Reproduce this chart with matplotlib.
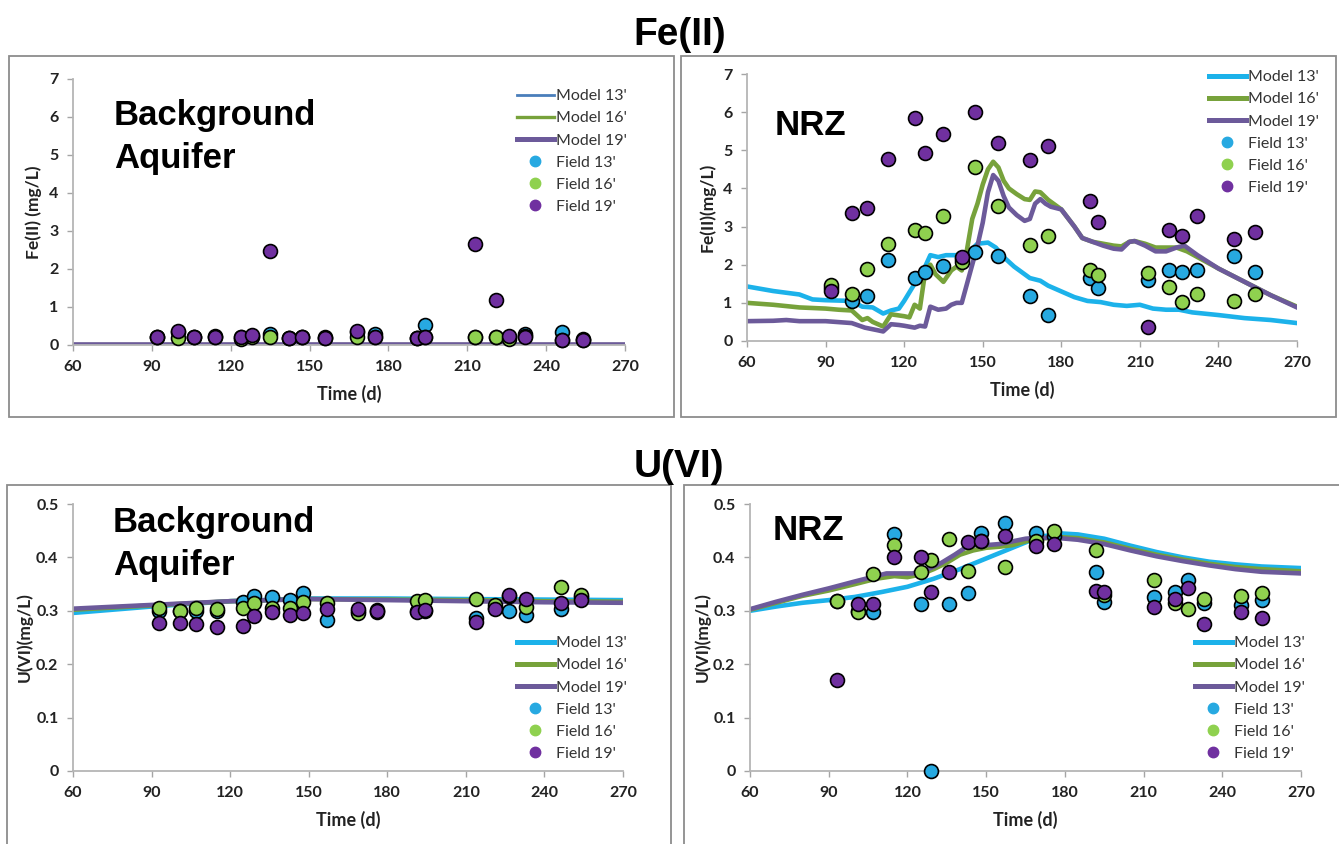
import matplotlib

matplotlib.use("Agg")
import matplotlib.pyplot as plt
from matplotlib.lines import Line2D
from matplotlib.patches import Rectangle

W, H = 1339, 844

# ---- Fe(II), background aquifer ----
fe_bg_days = [92, 100, 106, 114, 124, 128, 135, 142, 147, 156, 168, 175, 191, 194, 213, 221, 226, 232, 246, 254]
fe_bg_f13 = [0.2, 0.35, 0.22, 0.25, 0.22, 0.25, 0.3, 0.18, 0.2, 0.22, 0.35, 0.3, 0.18, 0.53, 0.2, 0.2, 0.2, 0.28, 0.35, 0.15]
fe_bg_f16 = [0.2, 0.18, 0.2, 0.2, 0.15, 0.2, 0.2, 0.18, 0.2, 0.18, 0.22, 0.22, 0.18, 0.2, 0.2, 0.22, 0.15, 0.25, 0.12, 0.12]
fe_bg_f19 = [0.2, 0.38, 0.2, 0.2, 0.22, 0.27, 2.48, 0.18, 0.2, 0.18, 0.38, 0.2, 0.18, 0.2, 2.65, 1.18, 0.25, 0.2, 0.12, 0.12]
fe_bg_model_days = [60, 120, 180, 240, 270]
fe_bg_m13 = [0.03, 0.03, 0.03, 0.03, 0.03]
fe_bg_m16 = [0.03, 0.03, 0.03, 0.03, 0.03]
fe_bg_m19 = [0.03, 0.03, 0.03, 0.03, 0.03]

# ---- Fe(II), NRZ ----
fe_nrz_days = [92, 100, 106, 114, 124, 128, 135, 142, 147, 156, 168, 175, 191, 194, 213, 221, 226, 232, 246, 254]
fe_nrz_f13 = [1.38, 1.05, 1.18, 2.12, 1.66, 1.8, 1.97, 2.15, 2.33, 2.23, 1.17, 0.68, 1.65, 1.4, 1.6, 1.87, 1.8, 1.87, 2.22, 1.82]
fe_nrz_f16 = [1.48, 1.22, 1.9, 2.55, 2.9, 2.82, 3.27, 2.08, 4.55, 3.55, 2.52, 2.75, 1.87, 1.73, 1.78, 1.42, 1.03, 1.23, 1.05, 1.23]
fe_nrz_f19 = [1.3, 3.35, 3.48, 4.78, 5.85, 4.92, 5.42, 2.2, 6.0, 5.19, 4.75, 5.1, 3.67, 3.13, 0.37, 2.9, 2.75, 3.27, 2.67, 2.85]

fe_nrz_m13_days = [60, 70, 80, 85, 90, 100, 104, 108, 110, 112, 115, 118, 120, 124, 127, 130, 133, 136, 140, 145,
                   148, 152, 155, 158, 162, 165, 168, 172, 175, 180, 185, 190, 195, 200, 205, 210, 215, 220, 225,
                   230, 240, 250, 260, 270]
fe_nrz_m13 = [1.43, 1.31, 1.22, 1.09, 1.07, 1.05, 0.9, 0.88, 0.8, 0.72, 0.8, 0.85, 1.05, 1.5, 1.8, 2.25, 2.2, 2.25, 2.25, 2.35,
              2.55, 2.58, 2.45, 2.2, 1.95, 1.8, 1.65, 1.58, 1.45, 1.3, 1.15, 1.05, 1.02, 0.95, 0.92, 0.95, 0.85, 0.82, 0.82,
              0.75, 0.68, 0.6, 0.55, 0.47]
fe_nrz_m16_days = [60, 70, 80, 90, 95, 100, 104, 106, 108, 112, 115, 120, 122, 124, 126, 128, 130, 132, 135, 138,
                   140, 142, 144, 146, 148, 150, 152, 154, 156, 158, 160, 163, 166, 168, 170, 172, 175, 178, 180,
                   185, 188, 192, 196, 200, 203, 206, 208, 212, 216, 220, 224, 228, 232, 240, 250, 260, 270]
fe_nrz_m16 = [1.0, 0.95, 0.88, 0.85, 0.82, 0.8, 0.55, 0.6, 0.5, 0.38, 0.7, 0.65, 0.62, 0.95, 0.85, 1.8, 2.0, 1.75, 1.55, 1.85,
              1.95, 1.85, 2.4, 3.2, 3.6, 4.1, 4.5, 4.7, 4.55, 4.2, 4.0, 3.85, 3.72, 3.7, 3.92, 3.9, 3.7, 3.55, 3.45,
              3.0, 2.7, 2.6, 2.55, 2.5, 2.48, 2.6, 2.62, 2.55, 2.45, 2.45, 2.45, 2.35, 2.2, 1.9, 1.55, 1.2, 0.9]
fe_nrz_m19_days = [60, 70, 75, 80, 90, 100, 105, 110, 112, 115, 118, 120, 124, 126, 128, 130, 133, 136, 138, 140,
                   142, 144, 146, 148, 150, 152, 154, 156, 158, 160, 163, 166, 168, 170, 172, 174, 176, 180, 185,
                   188, 192, 196, 200, 203, 206, 208, 212, 216, 220, 224, 227, 232, 240, 250, 260, 270]
fe_nrz_m19 = [0.52, 0.53, 0.55, 0.52, 0.52, 0.47, 0.35, 0.28, 0.25, 0.44, 0.42, 0.4, 0.35, 0.4, 0.38, 0.9, 0.82, 0.85, 0.95, 1.0,
              1.0, 1.5, 2.0, 2.5, 3.1, 3.9, 4.35, 4.2, 3.8, 3.5, 3.3, 3.15, 3.2, 3.6, 3.72, 3.6, 3.52, 3.45, 3.0,
              2.7, 2.6, 2.5, 2.42, 2.4, 2.6, 2.62, 2.5, 2.35, 2.35, 2.45, 2.5, 2.25, 1.9, 1.55, 1.2, 0.88]

# ---- U(VI), background aquifer ----
u_bg_days = [93, 101, 107, 115, 125, 129, 136, 143, 148, 157, 169, 176, 191.5, 194.5, 214, 221, 226.5, 233, 246.5, 254]
u_bg_f13 = [0.30, 0.30, 0.30, 0.30, 0.317, 0.328, 0.326, 0.32, 0.333, 0.282, 0.30, 0.302, 0.30, 0.30, 0.287, 0.305, 0.30, 0.292, 0.304, 0.325]
u_bg_f16 = [0.305, 0.299, 0.305, 0.303, 0.306, 0.315, 0.305, 0.305, 0.317, 0.315, 0.295, 0.297, 0.318, 0.32, 0.322, 0.31, 0.328, 0.307, 0.344, 0.33]
u_bg_f19 = [0.277, 0.277, 0.275, 0.27, 0.272, 0.29, 0.298, 0.293, 0.296, 0.304, 0.303, 0.30, 0.298, 0.302, 0.279, 0.303, 0.33, 0.322, 0.314, 0.32]
u_bg_model_days = [60, 90, 120, 150, 180, 210, 240, 270]
u_bg_m13 = [0.296, 0.308, 0.318, 0.323, 0.323, 0.322, 0.321, 0.32]
u_bg_m16 = [0.302, 0.31, 0.318, 0.322, 0.321, 0.32, 0.318, 0.317]
u_bg_m19 = [0.304, 0.311, 0.318, 0.322, 0.32, 0.318, 0.316, 0.315]

# ---- U(VI), NRZ ----
u_nrz_days = [93, 101, 107, 115, 125, 129, 136, 143, 148, 157, 169, 176, 192, 195, 214, 222, 227, 233, 247, 255]
u_nrz_f13 = [0.318, 0.30, 0.297, 0.443, 0.313, 0.0, 0.312, 0.333, 0.445, 0.465, 0.445, 0.44, 0.373, 0.317, 0.325, 0.336, 0.358, 0.315, 0.31, 0.32]
u_nrz_f16 = [0.318, 0.297, 0.368, 0.423, 0.372, 0.395, 0.435, 0.375, 0.43, 0.382, 0.43, 0.45, 0.413, 0.33, 0.358, 0.315, 0.303, 0.322, 0.327, 0.333]
u_nrz_f19 = [0.17, 0.313, 0.313, 0.40, 0.40, 0.335, 0.372, 0.428, 0.43, 0.44, 0.422, 0.425, 0.337, 0.335, 0.308, 0.323, 0.342, 0.275, 0.297, 0.287]

u_nrz_m13_days = [60, 70, 80, 90, 100, 110, 120, 130, 140, 150, 160, 170, 178, 185, 195, 205, 215, 225, 235, 245, 255, 270]
u_nrz_m13 = [0.30, 0.308, 0.315, 0.32, 0.326, 0.335, 0.345, 0.36, 0.378, 0.398, 0.418, 0.438, 0.445, 0.443, 0.435, 0.422,
             0.41, 0.40, 0.392, 0.387, 0.383, 0.38]
u_nrz_m16_days = [60, 70, 80, 90, 100, 108, 115, 120, 125, 130, 135, 140, 145, 150, 155, 160, 165, 170, 178, 185, 195,
                  205, 215, 225, 235, 245, 255, 270]
u_nrz_m16 = [0.302, 0.315, 0.328, 0.338, 0.35, 0.36, 0.365, 0.363, 0.368, 0.378, 0.39, 0.405, 0.413, 0.418, 0.42, 0.423,
             0.43, 0.435, 0.438, 0.436, 0.428, 0.416, 0.405, 0.396, 0.388, 0.382, 0.378, 0.374]
u_nrz_m19_days = [60, 70, 80, 90, 100, 108, 112, 118, 122, 128, 133, 138, 142, 146, 150, 155, 160, 165, 170, 178, 185,
                  195, 205, 215, 225, 235, 245, 255, 270]
u_nrz_m19 = [0.303, 0.317, 0.33, 0.342, 0.355, 0.365, 0.37, 0.37, 0.37, 0.378, 0.39, 0.405, 0.418, 0.423, 0.423, 0.425,
             0.43, 0.435, 0.437, 0.436, 0.433, 0.425, 0.413, 0.402, 0.393, 0.385, 0.378, 0.373, 0.37]

x_ticks = [60, 90, 120, 150, 180, 210, 240, 270]
fe_ticks = [0, 1, 2, 3, 4, 5, 6, 7]
u_ticks = [0, 0.1, 0.2, 0.3, 0.4, 0.5]
u_tick_labels = ["0", "0.1", "0.2", "0.3", "0.4", "0.5"]
legend_labels = ["Model 13'", "Model 16'", "Model 19'", "Field 13'", "Field 16'", "Field 19'"]

MODEL_BLUE = "#1cb2ea"
MODEL_GREEN = "#77a23b"
MODEL_PURPLE = "#6c5a9a"
FIELD_BLUE = "#27a9e1"
FIELD_GREEN = "#8fd14f"
FIELD_PURPLE = "#7030a0"

SANS = ["Lato", "DejaVu Sans"]
ARIAL = ["Liberation Sans", "DejaVu Sans"]


def px_axes(fig, left, top, right, bottom):
    return fig.add_axes([left / W, 1 - bottom / H, (right - left) / W, (bottom - top) / H])


def frame(fig, left, top, right, bottom):
    fig.patches.append(Rectangle((left / W, 1 - bottom / H), (right - left) / W, (bottom - top) / H,
                                 transform=fig.transFigure, fill=False, edgecolor="#8c8c8c", linewidth=1.3))


def style_axes(ax, yticks, ylabels, ylim, ylabel, ylabel_x):
    ax.set_xlim(60, 270)
    ax.set_ylim(*ylim)
    for side in ("top", "right"):
        ax.spines[side].set_visible(False)
    for side in ("left", "bottom"):
        ax.spines[side].set_color("#b5b5b5")
        ax.spines[side].set_linewidth(1.3)
    ax.set_xticks(x_ticks)
    ax.set_xticklabels([str(v) for v in x_ticks])
    ax.set_yticks(yticks)
    ax.set_yticklabels(ylabels)
    ax.tick_params(direction="out", length=4.5, width=1, color="#a5a5a5", labelsize=11.5,
                   labelcolor="#222222", pad=6)
    for lab in ax.get_xticklabels() + ax.get_yticklabels():
        lab.set_fontweight("bold")
        lab.set_family(SANS)
    ax.set_xlabel("Time (d)", fontsize=13, fontweight="bold", family=SANS, color="#222222")
    ax.xaxis.set_label_coords(0.5, -0.185)
    ax.xaxis.label.set_va("center")
    ax.set_ylabel(ylabel, fontsize=12.5, fontweight="bold", family=SANS, color="#222222")
    ax.yaxis.set_label_coords(ylabel_x, 0.5)
    ax.yaxis.label.set_va("center")
    ax.patch.set_alpha(0)


def plot_field(ax, days, f13, f16, f19):
    for vals, col in ((f13, FIELD_BLUE), (f16, FIELD_GREEN), (f19, FIELD_PURPLE)):
        ax.plot(days, vals, linestyle="none", marker="o", markersize=10, markerfacecolor=col,
                markeredgecolor="black", markeredgewidth=1.2, clip_on=False, zorder=4)


def add_legend(ax, x, y, model_styles):
    handles = [Line2D([], [], color=c, linewidth=lw) for c, lw in model_styles]
    for col in (FIELD_BLUE, FIELD_GREEN, FIELD_PURPLE):
        handles.append(Line2D([], [], linestyle="none", marker="o", markersize=7.5,
                              markerfacecolor=col, markeredgecolor=col))
    ax.legend(handles, legend_labels, loc="upper left", bbox_to_anchor=(x / W, 1 - y / H),
              bbox_transform=ax.figure.transFigure, frameon=False, borderpad=0, borderaxespad=0,
              handlelength=2.3, handletextpad=0.15, labelspacing=0.5,
              prop={"family": SANS, "size": 11.5}, labelcolor="#333333")


fig = plt.figure(figsize=(W / 100, H / 100), dpi=100)
fig.patch.set_facecolor("white")

frame(fig, 9, 56, 674, 417)
frame(fig, 681, 56, 1336, 417)
frame(fig, 7, 485, 671, 850)
frame(fig, 684, 485, 1345, 850)

fig.text(680 / W, 1 - 45 / H, "Fe(II)", ha="center", va="baseline", fontsize=28, fontweight="bold", family=ARIAL)
fig.text(679 / W, 1 - 477 / H, "U(VI)", ha="center", va="baseline", fontsize=28, fontweight="bold", family=ARIAL)

# top-left
ax1 = px_axes(fig, 73, 79, 625, 345)
style_axes(ax1, fe_ticks, [str(v) for v in fe_ticks], (0, 7), "Fe(II) (mg/L)", -0.072)
ax1.plot(fe_bg_model_days, fe_bg_m13, color="#4a7ebb", linewidth=2)
ax1.plot(fe_bg_model_days, fe_bg_m16, color=MODEL_GREEN, linewidth=2.4)
ax1.plot(fe_bg_model_days, fe_bg_m19, color=MODEL_PURPLE, linewidth=2.6)
plot_field(ax1, fe_bg_days, fe_bg_f13, fe_bg_f16, fe_bg_f19)
add_legend(ax1, 517, 89, [("#4a7ebb", 2), (MODEL_GREEN, 2.4), (MODEL_PURPLE, 3.6)])
fig.text(114 / W, 1 - 125 / H, "Background", fontsize=25, fontweight="bold", family=ARIAL, va="baseline")
fig.text(114 / W, 1 - 168 / H, "Aquifer", fontsize=25, fontweight="bold", family=ARIAL, va="baseline")

# top-right
ax2 = px_axes(fig, 747, 74, 1297, 341)
style_axes(ax2, fe_ticks, [str(v) for v in fe_ticks], (0, 7), "Fe(II)(mg/L)", -0.073)
ax2.plot(fe_nrz_m13_days, fe_nrz_m13, color=MODEL_BLUE, linewidth=3.3)
ax2.plot(fe_nrz_m16_days, fe_nrz_m16, color=MODEL_GREEN, linewidth=3.3)
ax2.plot(fe_nrz_m19_days, fe_nrz_m19, color=MODEL_PURPLE, linewidth=3.3)
plot_field(ax2, fe_nrz_days, fe_nrz_f13, fe_nrz_f16, fe_nrz_f19)
add_legend(ax2, 1209, 70, [(MODEL_BLUE, 3.6), (MODEL_GREEN, 3.6), (MODEL_PURPLE, 3.6)])
fig.text(775 / W, 1 - 135 / H, "NRZ", fontsize=25, fontweight="bold", family=ARIAL, va="baseline")

# bottom-left
ax3 = px_axes(fig, 73, 504, 623, 771)
style_axes(ax3, u_ticks, u_tick_labels, (0, 0.5), "U(VI)(mg/L)", -0.088)
ax3.plot(u_bg_model_days, u_bg_m13, color=MODEL_BLUE, linewidth=3.3)
ax3.plot(u_bg_model_days, u_bg_m16, color=MODEL_GREEN, linewidth=3.3)
ax3.plot(u_bg_model_days, u_bg_m19, color=MODEL_PURPLE, linewidth=3.3)
plot_field(ax3, u_bg_days, u_bg_f13, u_bg_f16, u_bg_f19)
add_legend(ax3, 517, 636, [(MODEL_BLUE, 3.6), (MODEL_GREEN, 3.6), (MODEL_PURPLE, 3.6)])
fig.text(113 / W, 1 - 532 / H, "Background", fontsize=25, fontweight="bold", family=ARIAL, va="baseline")
fig.text(113 / W, 1 - 575 / H, "Aquifer", fontsize=25, fontweight="bold", family=ARIAL, va="baseline")

# bottom-right
ax4 = px_axes(fig, 750, 504, 1301, 771)
style_axes(ax4, u_ticks, u_tick_labels, (0, 0.5), "U(VI)(mg/L)", -0.087)
ax4.plot(u_nrz_m13_days, u_nrz_m13, color=MODEL_BLUE, linewidth=3.3)
ax4.plot(u_nrz_m16_days, u_nrz_m16, color=MODEL_GREEN, linewidth=3.3)
ax4.plot(u_nrz_m19_days, u_nrz_m19, color=MODEL_PURPLE, linewidth=3.3)
plot_field(ax4, u_nrz_days, u_nrz_f13, u_nrz_f16, u_nrz_f19)
add_legend(ax4, 1195, 636, [(MODEL_BLUE, 3.6), (MODEL_GREEN, 3.6), (MODEL_PURPLE, 3.6)])
fig.text(773 / W, 1 - 540 / H, "NRZ", fontsize=25, fontweight="bold", family=ARIAL, va="baseline")

fig.savefig("out.png", dpi=100)
